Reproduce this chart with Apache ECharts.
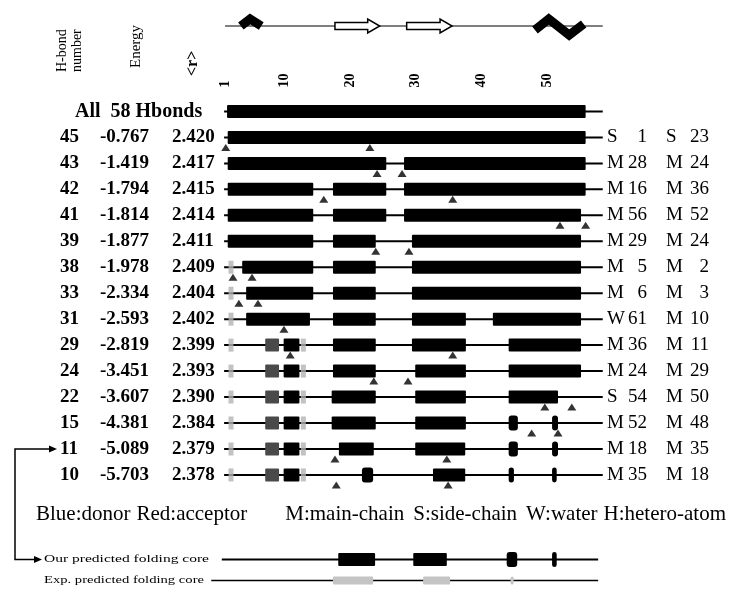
<!DOCTYPE html>
<html lang="en">
<head>
<meta charset="UTF-8">
<title>H-bond folding core</title>
<script src="https://cdn.jsdelivr.net/npm/echarts@6/dist/echarts.min.js"></script>
<style>
    *{margin:0;padding:0;}
    body{background:#fff;}
    #chart{width:731px;height:591px;}
</style>
</head>
<body>
<div id="chart"></div>
<script>
// rows, top to bottom (row 0 = all H-bonds)
var hbondNumbers = [45, 43, 42, 41, 39, 38, 33, 31, 29, 24, 22, 15, 11, 10];
var energies = [-0.767, -1.419, -1.794, -1.814, -1.877, -1.978, -2.334, -2.593, -2.819, -3.451, -3.607, -4.381, -5.089, -5.703];
var rValues = [2.420, 2.417, 2.415, 2.414, 2.411, 2.409, 2.404, 2.402, 2.399, 2.393, 2.390, 2.384, 2.379, 2.378];
var partnerA = ['S 1', 'M 28', 'M 16', 'M 56', 'M 29', 'M 5', 'M 6', 'W 61', 'M 36', 'M 24', 'S 54', 'M 52', 'M 18', 'M 35'];
var partnerB = ['S 23', 'M 24', 'M 36', 'M 52', 'M 24', 'M 2', 'M 3', 'M 10', 'M 11', 'M 29', 'M 50', 'M 48', 'M 35', 'M 18'];

// black segments of each row, in residue units [from, to]
var blackSegments = [
    [[1.3, 55.8]],
    [[1.4, 55.8]],
    [[1.4, 25.5], [28.2, 55.8]],
    [[1.4, 14.4], [17.4, 25.5], [28.2, 55.8]],
    [[1.4, 14.4], [17.4, 25.5], [28.2, 55.1]],
    [[1.4, 14.4], [17.4, 23.9], [29.4, 55.1]],
    [[3.6, 14.4], [17.4, 23.9], [29.4, 55.1]],
    [[4.2, 14.4], [17.4, 23.9], [29.4, 55.1]],
    [[4.2, 13.9], [17.4, 23.9], [29.4, 37.6], [41.7, 55.1]],
    [[9.9, 12.3], [17.4, 23.9], [29.4, 37.6], [44.1, 55.1]],
    [[9.9, 12.3], [17.4, 23.9], [29.9, 37.6], [44.1, 55.1]],
    [[9.9, 12.3], [17.2, 23.9], [29.9, 37.6], [44.1, 51.6]],
    [[9.9, 12.3], [17.2, 23.9], [29.9, 37.6], [44.1, 45.5], [50.7, 51.6]],
    [[9.9, 12.3], [18.3, 23.6], [29.9, 37.5], [44.1, 45.5], [50.7, 51.6]],
    [[9.9, 12.3], [21.8, 23.5], [32.6, 37.5], [44.1, 44.9], [50.7, 51.4]]
];
var darkSegments = [[9, 7.1, 9.2], [10, 7.1, 9.2], [11, 7.1, 9.2], [12, 7.1, 9.2], [13, 7.1, 9.2], [14, 7.1, 9.2]];
var grayMarks = [[1.9, 6], [1.9, 7], [1.9, 8], [1.9, 9], [1.9, 10], [1.9, 11], [1.9, 12], [1.9, 13], [1.9, 14],
    [12.9, 9], [12.9, 10], [12.9, 11], [12.9, 12], [12.9, 13], [12.9, 14]];
var triangles = [[], [1.1, 23.0], [24.1, 27.9], [16.0, 35.6], [51.9, 55.8], [23.9, 28.95], [2.2, 5.1], [3.1, 6.0],
    [9.95], [10.9, 35.6], [23.6, 28.8], [49.6, 53.7], [47.6, 51.6], [17.7, 34.7], [17.9, 34.9]];
var backbone = [0.85, 58.4];

// folding cores
var coreNames = ['Our predicted folding core', 'Exp. predicted folding core'];
var coreLines = [[0.5, 57.7], [-1.1, 57.7]];
var ourCore = [[18.2, 23.8], [29.6, 34.7], [43.8, 45.4], [50.7, 51.4]];
var expCore = [[17.4, 23.5], [31.1, 35.2], [44.4, 44.8]];

// secondary structure
var ssLine = [1.0, 58.4];
var helices = [
    [[3.4, 0], [4.8, 0.64], [6.5, 0]],
    [[48.1, -0.36], [50.2, 0.64], [53.3, -0.82], [55.5, 0.18]]
];
var strands = [[17.7, 24.5], [28.6, 35.5]];
var tickLabels = [1, 10, 20, 30, 40, 50];

var legendItems = ['Blue:donor', 'Red:acceptor', 'M:main-chain', 'S:side-chain', 'W:water', 'H:hetero-atom'];

var SERIF = '"Liberation Serif", "DejaVu Serif", serif';
var nRows = blackSegments.length;

var measureCtx = document.createElement('canvas').getContext('2d');
function textWidth(t, font) {
    measureCtx.font = font;
    return measureCtx.measureText(t).width;
}

var segData = [];
blackSegments.forEach(function (row, i) {
    row.forEach(function (s) { segData.push([s[0], s[1], i, 0]); });
});
darkSegments.forEach(function (d) { segData.push([d[1], d[2], d[0], 1]); });
var triData = [];
triangles.forEach(function (row, i) {
    row.forEach(function (v) { triData.push([v, i]); });
});
var lineData = [];
for (var i = 0; i < nRows; i++) lineData.push([backbone[0], backbone[1], i]);
var coreSegData = [];
ourCore.forEach(function (s) { coreSegData.push([s[0], s[1], 0, 0]); });
expCore.forEach(function (s) { coreSegData.push([s[0], s[1], 1, 1]); });

function segItem(params, api) {
    var s = api.coord([api.value(0), api.value(2)]);
    var e = api.coord([api.value(1), api.value(2)]);
    var w = e[0] - s[0];
    var small = w < 12;
    var kind = api.value(3);
    var h = small ? 15 : 13;
    var fill = kind === 1 ? '#4a4a4a' : '#000';
    return {
        type: 'rect',
        shape: { x: s[0], y: s[1] - h / 2, width: w, height: h, r: small ? 3 : 1 },
        style: { fill: fill }
    };
}

function lineItem(params, api) {
    var s = api.coord([api.value(0), api.value(2)]);
    var e = api.coord([api.value(1), api.value(2)]);
    return { type: 'line', shape: { x1: s[0], y1: s[1], x2: e[0], y2: e[1] }, style: { stroke: '#000', lineWidth: 2 } };
}

var chart = echarts.init(document.getElementById('chart'));
var option = {
    animation: false,
    backgroundColor: '#fff',
    grid: [
        { left: 218.5, right: 127.6, top: 98.5, height: 389.4 },
        { left: 218.5, right: 127.6, top: 549, height: 44 },
        { left: 218.5, right: 127.6, top: 15, height: 22 }
    ],
    xAxis: [
        {
            gridIndex: 0, type: 'value', min: 0, max: 58.5, position: 'top',
            axisLine: { show: false }, axisTick: { show: false }, splitLine: { show: false },
            axisLabel: {
                customValues: tickLabels, rotate: 90, margin: 11,
                fontFamily: SERIF, fontWeight: 'bold', fontSize: 14, color: '#000'
            }
        },
        { gridIndex: 1, type: 'value', min: 0, max: 58.5, show: false },
        { gridIndex: 2, type: 'value', min: 0, max: 58.5, show: false }
    ],
    yAxis: [
        { gridIndex: 0, type: 'value', min: -0.5, max: nRows - 0.5, inverse: true, show: false },
        { gridIndex: 1, type: 'value', min: -0.5, max: 1.5, inverse: true, show: false },
        { gridIndex: 2, type: 'value', min: -1, max: 1, show: false }
    ],
    series: [
        {
            type: 'custom', xAxisIndex: 0, yAxisIndex: 0, data: lineData,
            encode: { x: [0, 1], y: 2 }, renderItem: lineItem, z: 1
        },
        {
            type: 'custom', xAxisIndex: 0, yAxisIndex: 0, data: segData,
            encode: { x: [0, 1], y: 2 }, renderItem: segItem, z: 2
        },
        {
            type: 'scatter', xAxisIndex: 0, yAxisIndex: 0, data: grayMarks,
            symbol: 'rect', symbolSize: [5, 13], itemStyle: { color: '#b3b3b3' }, z: 3
        },
        {
            type: 'scatter', xAxisIndex: 0, yAxisIndex: 0, data: triData,
            symbol: 'triangle', symbolSize: [9, 7], symbolOffset: [0, 10],
            itemStyle: { color: '#000' }, z: 4
        },
        {
            // row labels: H-bond number, energy, <r>, and the two partners
            type: 'custom', xAxisIndex: 0, yAxisIndex: 0,
            data: (function () { var d = []; for (var k = 0; k < nRows; k++) d.push([0, k]); return d; })(),
            encode: { x: 0, y: 1 },
            renderItem: function (params, api) {
                var k = params.dataIndex;
                var y = api.coord([0, k])[1];
                var bold = 'bold 19px ' + SERIF;
                var reg = '19px ' + SERIF;
                if (k === 0) {
                    return { type: 'text', x: 75, y: y, style: { text: 'All  58 Hbonds', font: 'bold 20px ' + SERIF, fill: '#000', verticalAlign: 'middle' } };
                }
                var j = k - 1;
                var pa = partnerA[j].split(' ');
                var pb = partnerB[j].split(' ');
                var items = [
                    { t: String(hbondNumbers[j]), x: 60, f: bold, a: 'left' },
                    { t: energies[j].toFixed(3), x: 100, f: bold, a: 'left' },
                    { t: rValues[j].toFixed(3), x: 172, f: bold, a: 'left' },
                    { t: pa[0], x: 607, f: reg, a: 'left' },
                    { t: pa[1], x: 647, f: reg, a: 'right' },
                    { t: pb[0], x: 666, f: reg, a: 'left' },
                    { t: pb[1], x: 709, f: reg, a: 'right' }
                ];
                return {
                    type: 'group',
                    children: items.map(function (it) {
                        return { type: 'text', x: it.x, y: y, style: { text: it.t, font: it.f, fill: '#000', align: it.a, verticalAlign: 'middle' } };
                    })
                };
            }
        },
        {
            type: 'custom', xAxisIndex: 1, yAxisIndex: 1,
            data: coreLines.map(function (l, k) { return [l[0], l[1], k]; }),
            encode: { x: [0, 1], y: 2 },
            renderItem: function (params, api) {
                var k = params.dataIndex;
                var s = api.coord([api.value(0), k]);
                var e = api.coord([api.value(1), k]);
                var f = '10px ' + SERIF;
                var want = k === 0 ? 165 : 160;
                return {
                    type: 'group',
                    children: [
                        { type: 'line', shape: { x1: s[0], y1: s[1], x2: e[0], y2: e[1] }, style: { stroke: '#000', lineWidth: k === 0 ? 2 : 1.5 } },
                        {
                            type: 'text', x: 44, y: s[1], scaleX: want / textWidth(coreNames[k], f),
                            style: { text: coreNames[k], font: f, fill: '#000', align: 'left', verticalAlign: 'middle' }
                        }
                    ]
                };
            }
        },
        {
            type: 'custom', xAxisIndex: 1, yAxisIndex: 1, data: coreSegData,
            encode: { x: [0, 1], y: 2 }, z: 3,
            renderItem: function (params, api) {
                var s = api.coord([api.value(0), api.value(2)]);
                var e = api.coord([api.value(1), api.value(2)]);
                var w = Math.max(e[0] - s[0], 3);
                var exp = api.value(3) === 1;
                var small = w < 12;
                var h = exp ? 8 : (small ? 15 : 13);
                return {
                    type: 'rect',
                    shape: { x: s[0], y: s[1] - h / 2, width: w, height: h, r: small ? 3 : 1 },
                    style: { fill: exp ? '#c4c4c4' : '#000' }
                };
            }
        },
        {
            // secondary structure: backbone line
            type: 'custom', xAxisIndex: 2, yAxisIndex: 2, data: [[ssLine[0], ssLine[1], 0]],
            encode: { x: [0, 1], y: 2 },
            renderItem: function (params, api) {
                var s = api.coord([api.value(0), 0]);
                var e = api.coord([api.value(1), 0]);
                return { type: 'line', shape: { x1: s[0], y1: s[1], x2: e[0], y2: e[1] }, style: { stroke: '#000', lineWidth: 1.2 } };
            }
        },
        {
            type: 'custom', xAxisIndex: 2, yAxisIndex: 2,
            data: strands.map(function (s) { return [s[0], s[1], 0]; }),
            encode: { x: [0, 1], y: 2 }, z: 3,
            renderItem: function (params, api) {
                var s = api.coord([api.value(0), 0]);
                var e = api.coord([api.value(1), 0]);
                var hl = 12, bh = 3.5, hh = 7;
                var xh = e[0] - hl;
                return {
                    type: 'polygon',
                    shape: { points: [[s[0], s[1] - bh], [xh, s[1] - bh], [xh, s[1] - hh], [e[0], s[1]], [xh, s[1] + hh], [xh, s[1] + bh], [s[0], s[1] + bh]] },
                    style: { fill: '#fff', stroke: '#000', lineWidth: 1.5 }
                };
            }
        },
        {
            type: 'custom', xAxisIndex: 2, yAxisIndex: 2,
            data: helices.map(function (h) { return [h[0][0], h[0][1]]; }),
            encode: { x: 0, y: 1 }, z: 3,
            renderItem: function (params, api) {
                var pts = helices[params.dataIndex].map(function (p) { return api.coord(p); });
                return { type: 'polyline', shape: { points: pts }, style: { stroke: '#000', lineWidth: 9, fill: null, lineJoin: 'miter', lineCap: 'butt' } };
            }
        }
    ]
};
chart.setOption(option);

// annotation: headers, legend line and the arrow from row "11" to the predicted core
var y11 = chart.convertToPixel({ xAxisIndex: 0, yAxisIndex: 0 }, [0, 13])[1];
var yCore = chart.convertToPixel({ xAxisIndex: 1, yAxisIndex: 1 }, [0, 0])[1];
var legendFont = '21px ' + SERIF;
var legendGaps = [6, 38, 9, 9, 6];
var graphics = [
    { type: 'text', x: 62, y: 72, rotation: Math.PI / 2, style: { text: 'H-bond', font: '14px ' + SERIF, fill: '#000', verticalAlign: 'middle' } },
    { type: 'text', x: 77, y: 72, rotation: Math.PI / 2, style: { text: 'number', font: '14px ' + SERIF, fill: '#000', verticalAlign: 'middle' } },
    { type: 'text', x: 136, y: 68, rotation: Math.PI / 2, style: { text: 'Energy', font: '15px ' + SERIF, fill: '#000', verticalAlign: 'middle' } },
    { type: 'text', x: 193, y: 76, rotation: Math.PI / 2, style: { text: '<r>', font: 'bold 16px ' + SERIF, fill: '#000', verticalAlign: 'middle' } },
    { type: 'polyline', shape: { points: [[50, y11], [15, y11], [15, yCore], [35, yCore]] }, style: { stroke: '#000', lineWidth: 1.5, fill: null } },
    { type: 'polygon', shape: { points: [[49, y11 - 3.5], [57, y11], [49, y11 + 3.5]] }, style: { fill: '#000' } },
    { type: 'polygon', shape: { points: [[34, yCore - 3.5], [42, yCore], [34, yCore + 3.5]] }, style: { fill: '#000' } }
];
var lx = 36;
legendItems.forEach(function (t, k) {
    graphics.push({ type: 'text', x: lx, y: 514, style: { text: t, font: legendFont, fill: '#000', verticalAlign: 'middle' } });
    lx += textWidth(t, legendFont) + (legendGaps[k] || 0);
});
chart.setOption({ graphic: graphics });
</script>
</body>
</html>
